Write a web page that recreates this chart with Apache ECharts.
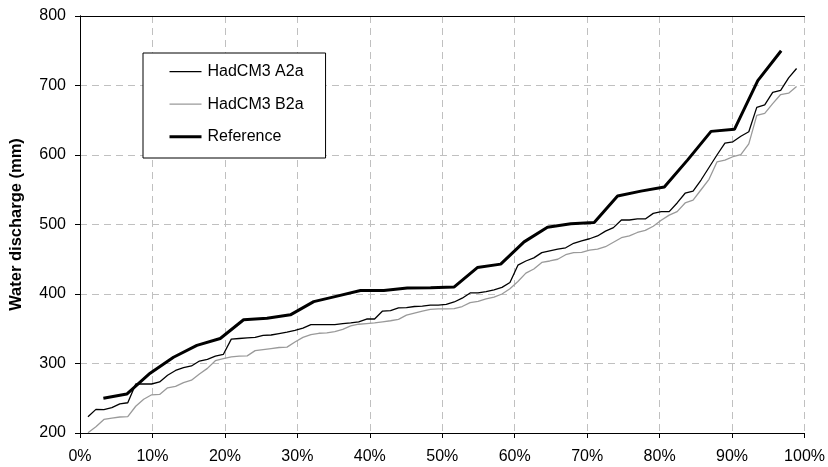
<!DOCTYPE html>
<html>
<head>
<meta charset="utf-8">
<script src="https://cdn.jsdelivr.net/npm/echarts@6/dist/echarts.min.js"></script>
<style>
  html, body { margin: 0; padding: 0; background: #fff; }
  #chart { width: 828px; height: 467px; }
</style>
</head>
<body>
<div id="chart"></div>
<script>
// Ranked annual water discharge (mm) against non-exceedance frequency (%).
const seriesNames = ['HadCM3 A2a', 'HadCM3 B2a', 'Reference'];

// Scenario runs: 90 ranked values each
const a2a = [
  223.5, 234, 233.5, 236.5, 242, 243.5, 270.5, 270.5, 270.5, 273.5,
  283, 290, 294, 296.5, 303.5, 306, 310.5, 313, 335, 336,
  337, 337.5, 340.5, 341, 343, 345, 347.5, 351, 356, 356,
  356, 356, 357.5, 358.5, 360, 364, 364, 375.5, 376, 380,
  380.5, 382, 382.5, 384, 384, 385, 388.5, 394, 401.5, 401.5,
  403.5, 406, 409.5, 416.5, 441.5, 447.5, 452, 459.5, 462, 464.5,
  466.5, 473, 476.5, 479.5, 483.5, 490.5, 495.5, 506.5, 506.5, 508,
  508, 516, 518.5, 518.5, 531, 545, 548, 564, 582, 600,
  617, 619, 627, 633.5, 668.5, 672, 690, 693, 711, 724.5
];
const b2a = [
  200.5, 209, 219.5, 221.5, 223, 223.5, 238.5, 248.5, 255, 255.5,
  265, 267, 272.5, 276, 285, 293, 304, 307, 309.5, 310.5,
  311, 318.5, 320, 321.5, 323, 323.5, 331, 337.5, 341.5, 343.5,
  344, 346, 349, 354, 356.5, 357.5, 358.5, 360, 361.5, 363.5,
  369.5, 372.5, 375.5, 378, 378.5, 378.5, 379, 382, 387.5, 389.5,
  393, 395.5, 400, 407.5, 418, 430, 436, 445.5, 447.5, 450,
  456.5, 459.5, 460, 463, 464.5, 468, 474.5, 481, 483.5, 488.5,
  491.5, 497.5, 506, 513.5, 518.5, 531, 535, 550, 565, 590,
  592.5, 597.5, 600.5, 616, 657, 660, 674, 687, 689, 698.5
];
// Observed reference period: 30 ranked values
const reference = [
  250, 256, 286, 309, 326, 336, 363, 365, 370, 389,
  397, 405, 405, 408.5, 409, 410, 438, 443, 475, 496,
  501, 503, 541, 548, 554, 593, 634, 637, 707, 750
];

const yTicks = { min: 200, max: 800, step: 100 };
const xTicks = { min: 0, max: 100, step: 10 };

// Plotting position i/(n+1), in percent
function ranked(values) {
  const n = values.length;
  return values.map((v, i) => [(i + 1) / (n + 1) * 100, v]);
}

const font = 'Liberation Sans, Arial, sans-serif';
const dashed = { color: '#c0c0c0', width: 1, type: [7, 5] };
const black = { color: '#000', width: 1 };

const styles = {
  a2a: { color: '#000', width: 1.3 },
  b2a: { color: '#9a9a9a', width: 1.3 },
  ref: { color: '#000', width: 3 }
};

// Frame axes on the top and right close the plot box above the grid lines
const frameAxis = {
  axisLine: { show: true, lineStyle: black },
  axisTick: { show: false }, axisLabel: { show: false }, splitLine: { show: false }
};

const chart = echarts.init(document.getElementById('chart'), null, { renderer: 'canvas' });
chart.setOption({
  animation: false,
  backgroundColor: '#ffffff',
  grid: { left: 79, right: 22, top: 16, bottom: 34 },
  legend: {
    orient: 'vertical',
    left: 143, top: 53,
    data: [
      { name: seriesNames[0], lineStyle: { width: styles.a2a.width } },
      { name: seriesNames[1], lineStyle: { width: styles.b2a.width } },
      { name: seriesNames[2], lineStyle: { width: styles.ref.width } }
    ],
    itemWidth: 32, itemHeight: 16, itemGap: 16.5,
    padding: [10.7, 22, 13.3, 25],
    borderColor: '#000', borderWidth: 1,
    backgroundColor: '#fff',
    // keep only the line sample, no marker
    itemStyle: { color: 'transparent', borderWidth: 0 },
    textStyle: { fontFamily: font, fontSize: 16, color: '#000', padding: [0, 0, 0, 1] }
  },
  xAxis: [
    {
      type: 'value', position: 'bottom',
      min: xTicks.min, max: xTicks.max, interval: xTicks.step,
      axisLine: { show: true, lineStyle: black },
      axisTick: { show: true, length: 5, lineStyle: { color: '#000' } },
      axisLabel: { formatter: '{value}%', fontFamily: font, fontSize: 16, color: '#000', margin: 16 },
      splitLine: { show: true, lineStyle: dashed }
    },
    Object.assign({ type: 'value', position: 'top', min: xTicks.min, max: xTicks.max }, frameAxis)
  ],
  yAxis: [
    {
      type: 'value', position: 'left',
      min: yTicks.min, max: yTicks.max, interval: yTicks.step,
      name: 'Water discharge (mm)',
      nameLocation: 'middle',
      nameGap: 55,
      nameTextStyle: { fontFamily: font, fontSize: 16.5, fontWeight: 'bold', color: '#000' },
      axisLine: { show: true, lineStyle: black },
      axisTick: { show: true, length: 5, lineStyle: { color: '#000' } },
      axisLabel: { fontFamily: font, fontSize: 16, color: '#000', margin: 14 },
      splitLine: { show: true, lineStyle: dashed }
    },
    Object.assign({ type: 'value', position: 'right', min: yTicks.min, max: yTicks.max }, frameAxis)
  ],
  series: [
    {
      name: seriesNames[0], type: 'line', data: ranked(a2a),
      symbol: 'none', lineStyle: styles.a2a, itemStyle: { color: styles.a2a.color }, z: 3
    },
    {
      name: seriesNames[1], type: 'line', data: ranked(b2a),
      symbol: 'none', lineStyle: styles.b2a, itemStyle: { color: styles.b2a.color }, z: 2
    },
    {
      name: seriesNames[2], type: 'line', data: ranked(reference),
      symbol: 'none', lineStyle: styles.ref, itemStyle: { color: styles.ref.color }, z: 4
    }
  ]
});
</script>
</body>
</html>
